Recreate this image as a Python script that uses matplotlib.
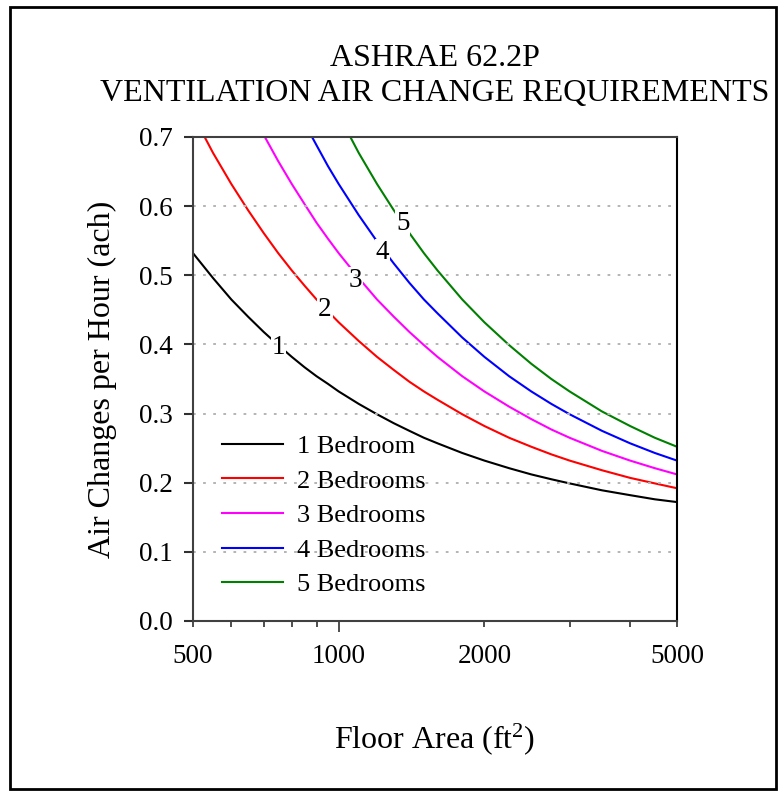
import matplotlib
matplotlib.use("Agg")
import matplotlib.pyplot as plt
from matplotlib.ticker import FixedLocator, NullFormatter, FixedFormatter
from matplotlib.patches import Rectangle

plt.rcParams['font.family'] = ['Liberation Serif', 'DejaVu Serif']
plt.rcParams['mathtext.fontset'] = 'custom'
plt.rcParams['mathtext.rm'] = 'Liberation Serif'
plt.rcParams['mathtext.default'] = 'rm'

# ---- data ----
floor_area = [500, 550, 600, 650, 700, 750, 800, 850, 900, 950, 1000, 1100, 1200,
              1300, 1400, 1500, 1600, 1800, 2000, 2250, 2500, 2750, 3000, 3500,
              4000, 4500, 5000]
ach_1br = [0.532, 0.496, 0.465, 0.440, 0.418, 0.399, 0.382, 0.367, 0.354, 0.343,
           0.332, 0.314, 0.299, 0.286, 0.275, 0.265, 0.257, 0.243, 0.232, 0.221,
           0.212, 0.205, 0.199, 0.189, 0.182, 0.176, 0.172]
ach_2br = [0.732, 0.677, 0.632, 0.594, 0.561, 0.532, 0.507, 0.485, 0.465, 0.448,
           0.432, 0.405, 0.382, 0.363, 0.346, 0.332, 0.320, 0.299, 0.282, 0.265,
           0.252, 0.241, 0.232, 0.218, 0.207, 0.199, 0.192]
ach_3br = [0.932, 0.859, 0.799, 0.747, 0.703, 0.665, 0.632, 0.603, 0.576, 0.553,
           0.532, 0.496, 0.465, 0.440, 0.418, 0.399, 0.382, 0.354, 0.332, 0.310,
           0.292, 0.277, 0.265, 0.246, 0.232, 0.221, 0.212]
ach_4br = [1.132, 1.041, 0.965, 0.901, 0.846, 0.799, 0.757, 0.720, 0.688, 0.658,
           0.632, 0.587, 0.549, 0.517, 0.489, 0.465, 0.445, 0.410, 0.382, 0.354,
           0.332, 0.314, 0.299, 0.275, 0.257, 0.243, 0.232]
ach_5br = [1.332, 1.223, 1.132, 1.055, 0.989, 0.932, 0.882, 0.838, 0.799, 0.764,
           0.732, 0.677, 0.632, 0.594, 0.561, 0.532, 0.507, 0.465, 0.432, 0.399,
           0.372, 0.350, 0.332, 0.303, 0.282, 0.265, 0.252]
series_names = ['1 Bedroom', '2 Bedrooms', '3 Bedrooms', '4 Bedrooms', '5 Bedrooms']
series_colors = ['#000000', '#ff0000', '#ff00ff', '#0000ff', '#008000']
curve_label_text = ['1', '2', '3', '4', '5']
curve_label_x = [752, 937, 1085, 1230, 1357]
curve_label_y = [0.395, 0.450, 0.493, 0.533, 0.575]
x_tick_values = [500, 1000, 2000, 5000]
x_tick_labels = ['500', '1000', '2000', '5000']
x_minor_values = [600, 700, 800, 900, 3000, 4000]
y_tick_values = [0.0, 0.1, 0.2, 0.3, 0.4, 0.5, 0.6, 0.7]

W, H = 779, 792
fig = plt.figure(figsize=(W / 100, H / 100), dpi=100)
ax = fig.add_axes([193 / W, 1 - 621 / H, 484 / W, 484 / H])

all_series = [ach_1br, ach_2br, ach_3br, ach_4br, ach_5br]
for vals, name, col in zip(all_series, series_names, series_colors):
    ax.plot(floor_area, vals, color=col, lw=1.5, label=name, zorder=2)

for t, xv, yv in zip(curve_label_text, curve_label_x, curve_label_y):
    ax.text(xv, yv, t, fontsize=19.5, ha='center', va='center', zorder=2.2,
            bbox=dict(facecolor='white', edgecolor='none', pad=0.5))

ax.set_xscale('log')
ax.set_xlim(500, 5000)
ax.set_ylim(0, 0.7)

ax.xaxis.set_major_locator(FixedLocator(x_tick_values))
ax.xaxis.set_major_formatter(FixedFormatter(x_tick_labels))
ax.xaxis.set_minor_locator(FixedLocator(x_minor_values))
ax.xaxis.set_minor_formatter(NullFormatter())
ax.yaxis.set_major_locator(FixedLocator(y_tick_values))
ax.set_yticklabels(['%.1f' % v for v in y_tick_values])

ax.tick_params(axis='x', which='major', direction='out', length=4.5, width=1.2,
               labelsize=19.5, pad=12, color='#303030')
ax.tick_params(axis='x', which='minor', direction='out', length=4.5, width=1.2,
               color='#303030')
ax.tick_params(axis='y', which='major', direction='out', length=6.5, width=1.5,
               labelsize=19.5, pad=8, color='#303030')
ax.tick_params(top=False, right=False)
# the decade tick (1000) is drawn longer
ax.xaxis.get_major_ticks()[1].tick1line.set_markersize(8)

for s in ['left', 'bottom', 'top']:
    ax.spines[s].set_color('#404040')
    ax.spines[s].set_linewidth(1.5)
ax.spines['right'].set_color('#000000')
ax.spines['right'].set_linewidth(1.5)
for s in ax.spines.values():
    s.set_zorder(3)

ax.yaxis.grid(True, color='#b4b4b4', lw=1.4, linestyle=(0, (1.4, 3.8)))
ax.set_axisbelow(False)
for gl in ax.get_ygridlines():
    gl.set_zorder(2.5)

leg = ax.legend(loc='upper left', bbox_to_anchor=(0.06, 0.385), frameon=False,
                fontsize=19, handlelength=2.3, handletextpad=0.55,
                labelspacing=0.42, borderpad=0, borderaxespad=0)

ax.set_ylabel('Air Changes per Hour (ach)', fontsize=23, labelpad=16)
ax.set_xlabel('Floor Area (ft$^2$)', fontsize=23, labelpad=38)

fig.text(435 / W, 1 - 66 / H, 'ASHRAE 62.2P', ha='center', va='baseline', fontsize=23)
fig.text(435 / W, 1 - 101 / H, 'VENTILATION AIR CHANGE REQUIREMENTS', ha='center',
         va='baseline', fontsize=23)

border = Rectangle((10 / W, 3 / H), 766 / W, 782 / H, transform=fig.transFigure,
                   fill=False, edgecolor='black', lw=2)
fig.patches.append(border)

fig.savefig('out.png', dpi=100, facecolor='white')
